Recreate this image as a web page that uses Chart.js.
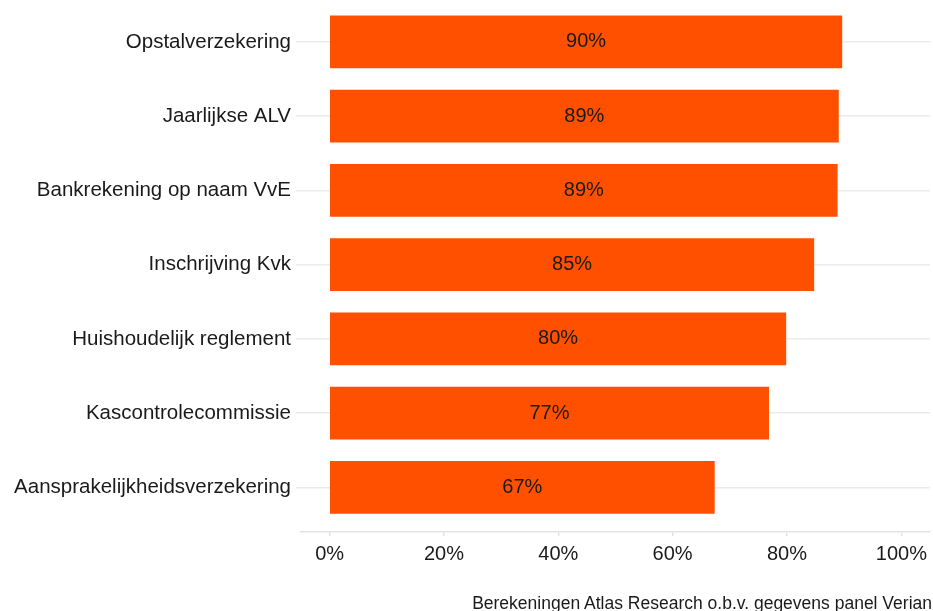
<!DOCTYPE html>
<html>
<head>
<meta charset="utf-8">
<script src="https://cdn.jsdelivr.net/npm/chart.js@4"></script>
<style>
  body { margin:0; width:933px; height:611px; overflow:hidden; background:#fff; position:relative; font-family:"Liberation Sans", Arial, sans-serif; }
  #wrap { position:absolute; left:0; top:-20px; width:933px; height:631px; }
  #bron { position:absolute; right:1px; top:593px; font-size:17.5px; color:#1a1a1a; white-space:nowrap; }
</style>
</head>
<body>
<div id="wrap"><canvas id="myChart"></canvas></div>
<div id="bron">Berekeningen Atlas Research o.b.v. gegevens panel Verian</div>
<script>
// categorieen (boven naar beneden)
const categories = ['Opstalverzekering', 'Jaarlijkse ALV', 'Bankrekening op naam VvE', 'Inschrijving Kvk',
                    'Huishoudelijk reglement', 'Kascontrolecommissie', 'Aansprakelijkheidsverzekering'];
const values = [89.6, 89.0, 88.8, 84.7, 79.8, 76.8, 67.3];
// x-as ticks
const xTicks = [0, 20, 40, 60, 80, 100];

const FONT = '"Liberation Sans", Arial, Helvetica, sans-serif';

// labels midden in de balk
const barLabels = {
	id: 'barLabels',
	afterDatasetsDraw(chart) {
		const ctx = chart.ctx;
		const meta = chart.getDatasetMeta(0);
		ctx.save();
		ctx.font = '20px ' + FONT;
		ctx.fillStyle = '#1a1a1a';
		ctx.textAlign = 'center';
		ctx.textBaseline = 'middle';
		meta.data.forEach(function(bar, i) {
			let x = (bar.x + bar.base) / 2;
			ctx.fillText(Math.round(values[i]) + '%', x, bar.y);
		});
		ctx.restore();
	}
};

new Chart(document.getElementById('myChart'), {
	type: 'bar',
	data: {
		datasets: [{
			data: values.map((v, i) => ({ x: v, y: i })),
			backgroundColor: '#FF5000',
			barThickness: 52
		}]
	},
	options: {
		indexAxis: 'y',
		responsive: true,
		maintainAspectRatio: false,
		animation: false,
		layout: { padding: { top: 11, right: 2, left: 0, bottom: 0 } },
		plugins: { legend: { display: false }, tooltip: { enabled: false } },
		scales: {
			x: {
				type: 'linear',
				min: -5, max: 105,
				afterBuildTicks: function(scale) { scale.ticks = xTicks.map(v => ({ value: v })); },
				afterFit: function(scale) { scale.height = 79; },
				ticks: {
					callback: v => v + '%',
					font: { family: FONT, size: 20 },
					color: '#1a1a1a',
					padding: 6,
					maxRotation: 0
				},
				grid: { drawOnChartArea: false, drawTicks: true, tickLength: 4, color: '#E3E3E3', lineWidth: 1.5 },
				border: { display: true, color: '#E3E3E3', width: 1.5 }
			},
			y: {
				type: 'linear',
				reverse: true,
				offset: false,
				min: -0.6, max: 6.6,
				afterBuildTicks: function(scale) { scale.ticks = categories.map((c, i) => ({ value: i })); },
				afterFit: function(scale) { scale.width = 301; },
				ticks: {
					callback: v => categories[v],
					font: { family: FONT, size: 20.5 },
					color: '#1a1a1a',
					padding: 5
				},
				grid: { offset: false, drawTicks: true, tickLength: 5, color: '#EBEBEB', lineWidth: 1.5 },
				border: { display: false }
			}
		}
	},
	plugins: [barLabels]
});
</script>
</body>
</html>
